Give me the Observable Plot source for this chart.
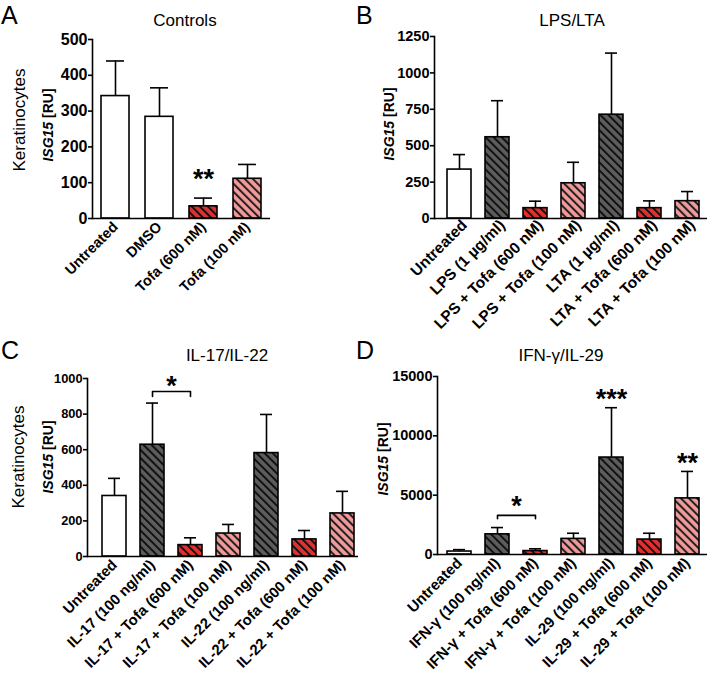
<!DOCTYPE html>
<html>
<head>
<meta charset="utf-8">
<script src="https://cdn.jsdelivr.net/npm/d3@7"></script>
<script src="https://cdn.jsdelivr.net/npm/@observablehq/plot@0.6"></script>
<style>
  html, body { margin: 0; padding: 0; background: white; }
  #root { position: relative; width: 709px; height: 673px; overflow: hidden; font-family: "Liberation Sans", Arial, sans-serif; }
  .panel { position: absolute; }
  #overlay { position: absolute; left: 0; top: 0; pointer-events: none; }
</style>
</head>
<body>
<div id="root">
  <svg width="0" height="0" style="position:absolute">
    <defs>
      <pattern id="hatch-stim" patternUnits="userSpaceOnUse" width="5.7" height="5.7" patternTransform="rotate(-45)">
        <rect width="5.7" height="5.7" fill="#5d5d5d"></rect>
        <line x1="1" y1="0" x2="1" y2="5.7" stroke="#111" stroke-width="2"></line>
      </pattern>
      <pattern id="hatch-t600" patternUnits="userSpaceOnUse" width="5.7" height="5.7" patternTransform="rotate(-45)">
        <rect width="5.7" height="5.7" fill="#e23030"></rect>
        <line x1="1" y1="0" x2="1" y2="5.7" stroke="#111" stroke-width="2"></line>
      </pattern>
      <pattern id="hatch-t100" patternUnits="userSpaceOnUse" width="5.7" height="5.7" patternTransform="rotate(-45)">
        <rect width="5.7" height="5.7" fill="#f29a9a"></rect>
        <line x1="1" y1="0" x2="1" y2="5.7" stroke="#222" stroke-width="2"></line>
      </pattern>
    </defs>
  </svg>
</div>
<script>
// ---------- Data ----------
// Panel A: Controls
const A_categories = ["Untreated", "DMSO", "Tofa (600 nM)", "Tofa (100 nM)"];
const A_means = [342, 284, 34, 111];
const A_errTops = [440, 365, 57, 151];
const A_groups = ["none", "none", "tofa600", "tofa100"];
const A_ticks = [0, 100, 200, 300, 400, 500];

// Panel B: LPS/LTA
const B_categories = ["Untreated", "LPS (1 µg/ml)", "LPS + Tofa (600 nM)", "LPS + Tofa (100 nM)", "LTA (1 µg/ml)", "LTA + Tofa (600 nM)", "LTA + Tofa (100 nM)"];
const B_means = [336, 558, 71, 242, 713, 71, 119];
const B_errTops = [439, 809, 119, 386, 1136, 121, 185];
const B_groups = ["none", "stim", "tofa600", "tofa100", "stim", "tofa600", "tofa100"];
const B_ticks = [0, 250, 500, 750, 1000, 1250];

// Panel C: IL-17/IL-22
const C_categories = ["Untreated", "IL-17 (100 ng/ml)", "IL-17 + Tofa (600 nM)", "IL-17 + Tofa (100 nM)", "IL-22 (100 ng/ml)", "IL-22 + Tofa (600 nM)", "IL-22 + Tofa (100 nM)"];
const C_means = [340, 628, 64, 129, 581, 96, 242];
const C_errTops = [439, 862, 105, 180, 798, 146, 366];
const C_groups = ["none", "stim", "tofa600", "tofa100", "stim", "tofa600", "tofa100"];
const C_ticks = [0, 200, 400, 600, 800, 1000];

// Panel D: IFN-γ/IL-29
const D_categories = ["Untreated", "IFN-γ (100 ng/ml)", "IFN-γ + Tofa (600 nM)", "IFN-γ + Tofa (100 nM)", "IL-29 (100 ng/ml)", "IL-29 + Tofa (600 nM)", "IL-29 + Tofa (100 nM)"];
const D_means = [250, 1700, 290, 1315, 8170, 1260, 4730];
const D_errTops = [410, 2270, 480, 1790, 12370, 1790, 7000];
const D_groups = ["none", "stim", "tofa600", "tofa100", "stim", "tofa600", "tofa100"];
const D_ticks = [0, 5000, 10000, 15000];

// Significance annotations
const A_stars = [{cat: "Tofa (600 nM)", label: "**"}];
const C_brackets = [{from: "IL-17 (100 ng/ml)", to: "IL-17 + Tofa (600 nM)", level: 927, leg: 28, label: "*"}];
const D_stars = [{cat: "IL-29 (100 ng/ml)", label: "***"}, {cat: "IL-29 + Tofa (100 nM)", label: "**"}];
const D_brackets = [{from: "IFN-γ (100 ng/ml)", to: "IFN-γ + Tofa (600 nM)", level: 3300, leg: 280, label: "*"}];

const fillFor = {none: "white", stim: "url(#hatch-stim)", tofa600: "url(#hatch-t600)", tofa100: "url(#hatch-t100)"};

function rows(cats, means, errs, groups) {
  return cats.map((c, i) => ({cat: c, mean: means[i], err: errs[i], group: groups[i]}));
}

function panel(cfg) {
  const data = rows(cfg.cats, cfg.means, cfg.errs, cfg.groups);
  const marks = [
    Plot.barY(data, {x: "cat", y: "mean", fill: d => fillFor[d.group], stroke: "black", strokeWidth: 1.6}),
    Plot.ruleX(data, {x: "cat", y1: "mean", y2: "err", stroke: "black", strokeWidth: 1.6}),
    Plot.tickY(data, {x: "cat", y: "err", stroke: "black", strokeWidth: 1.6, insetLeft: cfg.capInset, insetRight: cfg.capInset}),
    Plot.ruleY([0], {stroke: "black", strokeWidth: 1.6}),
    Plot.frame({anchor: "left", stroke: "black", strokeWidth: 1.6}),
    Plot.axisY({ticks: cfg.ticks, tickSize: 4, tickPadding: 1, strokeWidth: 1.6, label: null, tickFormat: d => String(d)}),
    Plot.axisX({tickSize: 0, tickPadding: cfg.xPad, tickRotate: -45, dx: cfg.xDx || 0, label: null})
  ];
  if (cfg.stars) {
    const s = cfg.stars.map(d => ({...d, y: data.find(r => r.cat === d.cat).err}));
    marks.push(Plot.text(s, {x: "cat", y: "y", text: "label", fontSize: 27, fontWeight: "bold", dy: cfg.starDy}));
  }
  if (cfg.brackets) {
    for (const b of cfg.brackets) {
      const pts = [
        {x: b.from, y: b.level - b.leg},
        {x: b.from, y: b.level},
        {x: b.to, y: b.level},
        {x: b.to, y: b.level - b.leg}
      ];
      marks.push(Plot.line(pts, {x: "x", y: "y", stroke: "black", strokeWidth: 1.6}));
    }
    const mid = cfg.brackets.map(b => ({x1: b.from, x2: b.to, y: b.level, label: b.label}));
    marks.push(Plot.text(mid, {x: d => d.x1, y: "y", text: "label", fontSize: 27, fontWeight: "bold", dx: cfg.bracketDx, dy: cfg.bracketDy}));
  }
  const svg = Plot.plot({
    width: cfg.width, height: cfg.height,
    marginLeft: cfg.ml, marginRight: cfg.mr, marginTop: cfg.mt, marginBottom: cfg.mb,
    style: {background: "transparent", color: "black", fontFamily: "'Liberation Sans', Arial, sans-serif", fontWeight: "bold", overflow: "visible"},
    x: {domain: cfg.cats, paddingInner: cfg.pi, paddingOuter: cfg.po, align: cfg.align, label: null},
    y: {domain: [0, cfg.ticks[cfg.ticks.length - 1]], label: null},
    color: {type: "identity"},
    marks
  });
  svg.querySelectorAll('g[aria-label="x-axis tick label"], g[aria-label="x-axis tick label"] text').forEach(e => e.style.fontSize = cfg.xFont + "px");
  svg.querySelectorAll('g[aria-label="y-axis tick label"], g[aria-label="y-axis tick label"] text').forEach(e => e.style.fontSize = cfg.yFont + "px");
  const div = document.createElement("div");
  div.className = "panel";
  div.style.left = cfg.left + "px";
  div.style.top = cfg.top + "px";
  div.style.width = cfg.width + "px";
  div.appendChild(svg);
  document.getElementById("root").appendChild(div);
}

panel({cats: A_categories, means: A_means, errs: A_errTops, groups: A_groups, ticks: A_ticks,
  left: 0, top: 0, width: 355, height: 335, ml: 92, mr: 85, mt: 39, mb: 117,
  pi: 0.36, po: 0.18, align: 0.5, capInset: 5, yFont: 16, xFont: 14.5, xPad: 6,
  stars: A_stars, starDy: -19});

panel({cats: B_categories, means: B_means, errs: B_errTops, groups: B_groups, ticks: B_ticks,
  left: 355, top: 0, width: 354, height: 335, ml: 79, mr: 2, mt: 36, mb: 117,
  pi: 0.377, po: 0.24, align: 0.62, capInset: 6, yFont: 14.5, xFont: 15.5, xPad: 4, xDx: 5});

panel({cats: C_categories, means: C_means, errs: C_errTops, groups: C_groups, ticks: C_ticks,
  left: 0, top: 335, width: 360, height: 338, ml: 87, mr: 2, mt: 43, mb: 117,
  pi: 0.377, po: 0.2, align: 0.8, capInset: 6, yFont: 12.8, xFont: 14.8, xPad: 6,
  brackets: C_brackets, bracketDx: 19, bracketDy: -5});

panel({cats: D_categories, means: D_means, errs: D_errTops, groups: D_groups, ticks: D_ticks,
  left: 355, top: 335, width: 354, height: 338, ml: 82, mr: 2, mt: 41, mb: 119,
  pi: 0.377, po: 0.2, align: 0.55, capInset: 6, yFont: 14.5, xFont: 15, xPad: 6,
  stars: D_stars, starDy: -8, brackets: D_brackets, bracketDx: 19, bracketDy: -9});

// ---------- Overlay text: panel letters, titles, axis labels ----------
const ns = "http://www.w3.org/2000/svg";
const ov = document.createElementNS(ns, "svg");
ov.setAttribute("id", "overlay");
ov.setAttribute("width", 709);
ov.setAttribute("height", 673);
ov.style.fontFamily = "'Liberation Sans', Arial, sans-serif";
function txt(x, y, parts, opts = {}) {
  const t = document.createElementNS(ns, "text");
  t.setAttribute("x", 0); t.setAttribute("y", 0);
  t.setAttribute("transform", `translate(${x},${y})` + (opts.rotate ? ` rotate(${opts.rotate})` : ""));
  t.setAttribute("text-anchor", opts.anchor || "start");
  t.setAttribute("font-size", opts.size || 16);
  if (opts.weight) t.setAttribute("font-weight", opts.weight);
  for (const p of parts) {
    const s = document.createElementNS(ns, "tspan");
    s.textContent = p.t;
    if (p.italic) s.setAttribute("font-style", "italic");
    t.appendChild(s);
  }
  ov.appendChild(t);
}
const letters = [["A", 1, 24], ["B", 356, 24], ["C", 1, 359], ["D", 356, 359]];
for (const [l, x, y] of letters) txt(x, y, [{t: l}], {size: 25});
const titles = [["Controls", 185, 26], ["LPS/LTA", 572, 26], ["IL-17/IL-22", 227, 361], ["IFN-γ/IL-29", 561, 361]];
for (const [l, x, y] of titles) txt(x, y, [{t: l}], {size: 17, anchor: "middle"});
const yLabelPos = [[53, 125], [394, 124], [53, 457], [388, 459]];
for (const [x, y] of yLabelPos) txt(x, y, [{t: "ISG15", italic: true}, {t: " [RU]"}], {size: 14, anchor: "middle", rotate: -90, weight: "bold"});
const rowLabelPos = [[25, 120], [24, 457]];
for (const [x, y] of rowLabelPos) txt(x, y, [{t: "Keratinocytes"}], {size: 17, anchor: "middle", rotate: -90});
document.getElementById("root").appendChild(ov);
</script>
</body>
</html>
